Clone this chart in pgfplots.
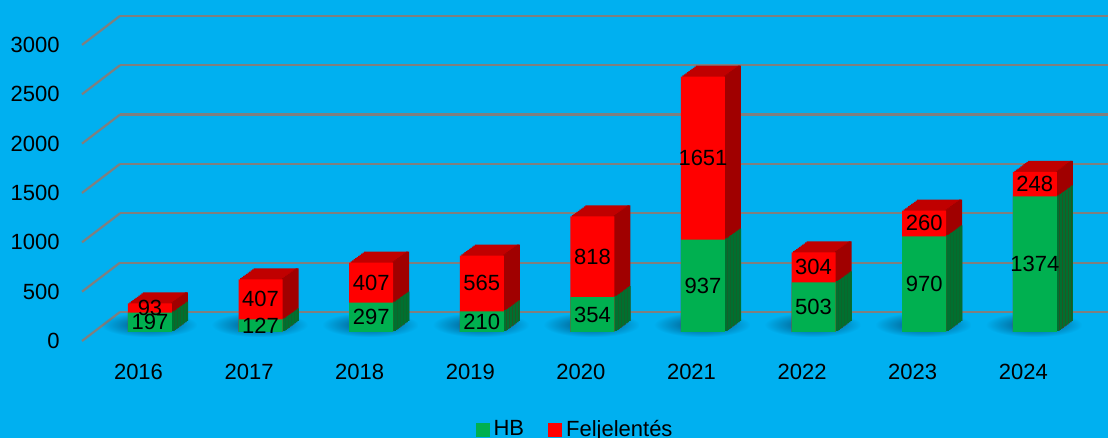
\documentclass[border=0pt]{standalone}
\usepackage{pgfplots}
\pgfplotsset{compat=1.18}
\usepackage{pgfplotstable}
\usetikzlibrary{fadings}
\usepackage{fontspec}
\setmainfont{Liberation Sans}
\definecolor{bgblue}{HTML}{00B0F0}
\definecolor{gridc}{HTML}{7F7F7F}
\definecolor{hbg}{HTML}{00B050}
\definecolor{hbgs}{HTML}{007030}
\definecolor{fr}{HTML}{FF0000}
\definecolor{frt}{HTML}{C00000}
\definecolor{frs}{HTML}{A00000}
\definecolor{shad}{HTML}{034E78}
\tikzfading[name=shadowfade, inner color=transparent!0, outer color=transparent!100]

\pgfplotstableread{
x year hb fe
0 2016 197 93
1 2017 127 407
2 2018 297 407
3 2019 210 565
4 2020 354 818
5 2021 937 1651
6 2022 503 304
7 2023 970 260
8 2024 1374 248
}\data
\pgfplotstablecreatecol[create col/expr={\thisrow{hb}+\thisrow{fe}}]{tot}{\data}

\pgfplotstableread{
v
0
500
1000
1500
2000
2500
3000
}\gridtab

\begin{document}
\fontsize{11}{13}\selectfont
\begin{tikzpicture}
\fill[bgblue] (0,0) rectangle (554pt,219pt);
\begin{axis}[
  at={(30pt,53pt)}, anchor=south west,
  x=55.3pt, y=0.04935pt,
  xmin=-0.8137, xmax=8.662, ymin=0, ymax=3364,
  clip=false,
  axis line style={draw=none},
  major tick length=0pt,
  xtick={0,...,8},
  xticklabels={2016,2017,2018,2019,2020,2021,2022,2023,2024},
  xticklabel style={anchor=center, xshift=-5.75pt, yshift=-20pt},
  ytick={0,500,...,3000},
  yticklabel style={anchor=east, inner sep=0pt, yshift=-4.5pt},
  /pgf/number format/1000 sep={},
  /pgf/number format/assume math mode=true,
  every node near coord/.append style={anchor=center, inner sep=0pt, text=black},
  legend style={at={(0.4924,-0.295)}, anchor=center, draw=none, fill=none,
    legend columns=2, /tikz/every even column/.append style={column sep=10pt},
    font=\fontsize{11}{13}\selectfont},
  legend image code/.code={\fill[#1] (0pt,-3.5pt) rectangle (7pt,3.5pt);},
]
% back grid
\addplot[gridc, line width=1.1pt, quiver={u=0.3436, v=293.8}, yshift=-4.5pt, forget plot] table[x expr=-0.6148, y=v]{\gridtab};
\addplot[gridc, line width=1.1pt, quiver={u=8.93, v=0}, yshift=10pt, forget plot] table[x expr=-0.2712, y=v]{\gridtab};
% shadows, one soft spot per bar
\pgfplotsinvokeforeach{0,1,2,3,4,5,6,7,8}{
  \addplot[ybar, bar width=48pt, bar shift=-0.5pt, draw=none, fill=shad, path fading=shadowfade, yshift=-2.5pt, forget plot,
    x filter/.expression={abs(x-#1)<0.1 ? x : nan}] table[x=x, y expr=250]{\data};
}
% depth copies (back to front)
\pgfplotsinvokeforeach{1,0.9,0.8,0.7,0.6,0.5,0.4,0.3,0.2,0.1}{
  \addplot[ybar, bar width=22pt, bar shift=0pt, fill=frt, draw=none, xshift={#1*7.5pt}, yshift={#1*5.5pt}, forget plot] table[x=x, y=tot]{\data};
  \addplot[ybar, bar width=1.5pt, bar shift=10.75pt, fill=frs, draw=none, xshift={#1*7.5pt}, yshift={#1*5.5pt}, forget plot] table[x=x, y=tot]{\data};
  \addplot[ybar, bar width=22.6pt, bar shift=0.3pt, fill=hbgs, draw=none, xshift={#1*7.5pt}, yshift={#1*5.5pt}, forget plot] table[x=x, y=hb]{\data};
}
% front faces
\addplot[ybar, bar width=22pt, bar shift=0pt, fill=fr, draw=none, forget plot] table[x=x, y=tot]{\data};
\addplot[ybar, bar width=22pt, bar shift=0pt, fill=hbg, draw=none, forget plot] table[x=x, y=hb]{\data};
% labels
\addplot[draw=none, mark=none, nodes near coords, point meta=explicit symbolic, forget plot] table[x=x, y expr=\thisrow{hb}/2, meta=hb]{\data};
\addplot[draw=none, mark=none, nodes near coords, point meta=explicit symbolic, forget plot] table[x=x, y expr=\thisrow{hb}+\thisrow{fe}/2, meta=fe]{\data};
% legend
\addlegendimage{fill=hbg, draw=none}
\addlegendentry{HB}
\addlegendimage{fill=fr, draw=none}
\addlegendentry{Feljelentés}
\end{axis}
\pgfresetboundingbox
\path[use as bounding box] (0,0) rectangle (554pt,219pt);
\end{tikzpicture}
\end{document}
